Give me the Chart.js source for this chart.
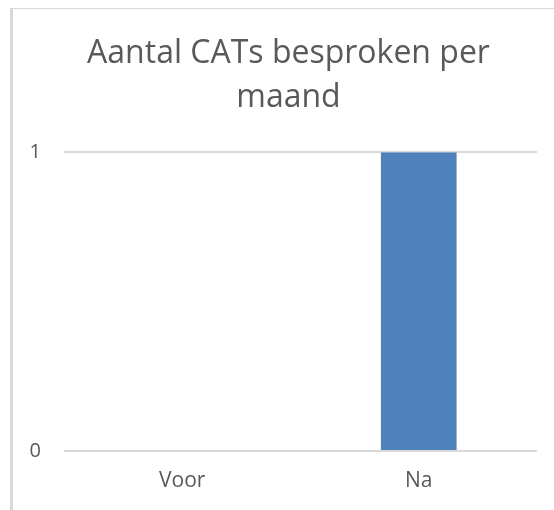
<!DOCTYPE html>
<html>
<head>
<meta charset="utf-8">
<script src="https://cdn.jsdelivr.net/npm/chart.js@4/dist/chart.umd.min.js"></script>
<style>
  html, body { margin: 0; padding: 0; background: #fff; }
  #frame {
    position: absolute; left: 10px; top: 8px;
    width: 541px; height: 502px;
    border-left: 3px solid #d9d9d9;
    border-top: 1px solid #d9d9d9;
  }
  #wrap { position: relative; width: 541px; height: 501px; }
</style>
</head>
<body>
<div id="frame"><div id="wrap"><canvas id="chart"></canvas></div></div>
<script>
// chart data
const categories = ['Voor', 'Na'];
const counts     = [0, 1];
const yTicks     = [0, 1];
const titleLines = ['Aantal CATs besproken per', 'maand'];

const textColor = '#595959';
const gridColor = '#d9d9d9';
const fontFam   = '"Open Sans", "Liberation Sans", sans-serif';

// the title in the picture sits a little right of the canvas centre
const titleShift = {
  id: 'titleShift',
  afterLayout: chart => { chart.titleBlock.left += 11; }
};

const ctx = document.getElementById('chart').getContext('2d');
new Chart(ctx, {
  type: 'bar',
  data: {
    labels: categories,
    datasets: [{
      data: counts,
      backgroundColor: '#4f81bd',
      barPercentage: 1,
      categoryPercentage: 0.32
    }]
  },
  plugins: [titleShift],
  options: {
    responsive: true,
    maintainAspectRatio: false,
    animation: false,
    layout: { padding: { left: 16, right: 17, top: 23, bottom: 17 } },
    plugins: {
      legend: { display: false },
      tooltip: { enabled: false },
      title: {
        display: true,
        text: titleLines,
        color: textColor,
        font: { family: fontFam, size: 32, weight: 'normal', lineHeight: 1.38 },
        padding: { top: 0, bottom: 32 }
      }
    },
    scales: {
      x: {
        grid: { display: false, drawTicks: false },
        border: { display: false },
        ticks: { color: textColor, font: { family: fontFam, size: 21 }, padding: 17 },
        // fixed axis sizes so the plot area lines up with the picture
        afterFit: axis => { axis.paddingLeft = 0; axis.paddingRight = 0; axis.height = 42; }
      },
      y: {
        min: 0, max: 1,
        afterBuildTicks: axis => { axis.ticks = yTicks.map(v => ({ value: v })); },
        grid: { color: gridColor, lineWidth: 2, drawTicks: false },
        border: { display: false },
        ticks: { color: textColor, font: { family: fontFam, size: 20 }, padding: 23 },
        afterFit: axis => { axis.paddingTop = 0; axis.paddingBottom = 0; axis.width = 35; }
      }
    }
  }
});
</script>
</body>
</html>
